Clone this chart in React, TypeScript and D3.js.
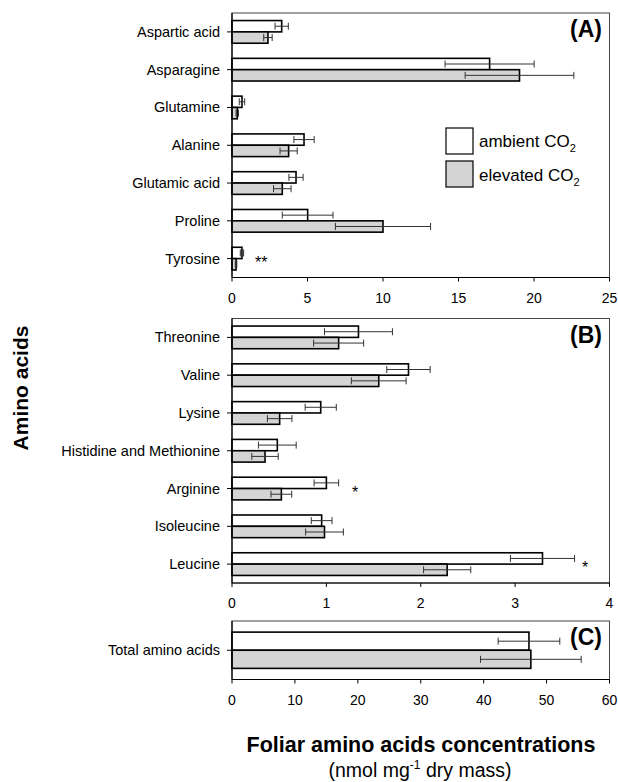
import React from "react";
import * as d3 from "d3";

// ---------- DATA ----------
const catsA = ["Aspartic acid", "Asparagine", "Glutamine", "Alanine", "Glutamic acid", "Proline", "Tyrosine"];
const ambA = [3.29, 17.06, 0.66, 4.77, 4.24, 5.01, 0.66];
const ambAErr = [0.44, 2.95, 0.18, 0.67, 0.47, 1.68, 0.11];
const eleA = [2.38, 19.04, 0.35, 3.75, 3.33, 10.0, 0.27];
const eleAErr = [0.28, 3.6, 0.08, 0.57, 0.58, 3.15, 0.05];
const sigA = ["", "", "", "", "", "", "**"];

const catsB = ["Threonine", "Valine", "Lysine", "Histidine and Methionine", "Arginine", "Isoleucine", "Leucine"];
const ambB = [1.34, 1.87, 0.94, 0.48, 1.0, 0.95, 3.29];
const ambBErr = [0.36, 0.23, 0.165, 0.2, 0.13, 0.11, 0.34];
const eleB = [1.13, 1.555, 0.505, 0.35, 0.523, 0.98, 2.28];
const eleBErr = [0.265, 0.29, 0.13, 0.14, 0.11, 0.2, 0.25];
const sigB = ["", "", "", "", "*", "", "*"];

const catsC = ["Total amino acids"];
const ambC = [47.2];
const ambCErr = [4.9];
const eleC = [47.5];
const eleCErr = [8.0];
const sigC = [""];

const ticksA = [0, 5, 10, 15, 20, 25];
const ticksB = [0, 1, 2, 3, 4];
const ticksC = [0, 10, 20, 30, 40, 50, 60];

const FONT = "'Liberation Sans', Arial, Helvetica, sans-serif";
const GRAY = "#d4d4d4";

type PanelProps = {
  cats: string[];
  amb: number[];
  ambErr: number[];
  ele: number[];
  eleErr: number[];
  sig: string[];
  ticks: number[];
  top: number;
  bottom: number;
  label: string;
  labelY: number;
  sigX: number[];
  single?: boolean;
};

const LEFT = 232;
const RIGHT = 609.5;

function Panel(p: PanelProps) {
  const x = d3.scaleLinear().domain([0, p.ticks[p.ticks.length - 1]]).range([LEFT, RIGHT]);
  const y = d3
    .scaleBand<string>()
    .domain(p.cats)
    .range([p.top, p.bottom])
    .paddingInner(p.single ? 0.38 : 0.4)
    .paddingOuter(p.single ? 0.19 : 0.2);
  const bw = y.bandwidth();
  const half = bw / 2;
  const cap = 3.5;
  const errBar = (m: number, e: number, cy: number, key: string) => (
    <g key={key} stroke="#333" strokeWidth={1}>
      <line x1={x(m - e)} x2={x(m + e)} y1={cy} y2={cy} />
      <line x1={x(m - e)} x2={x(m - e)} y1={cy - cap} y2={cy + cap} />
      <line x1={x(m + e)} x2={x(m + e)} y1={cy - cap} y2={cy + cap} />
    </g>
  );
  return (
    <g>
      <rect x={LEFT} y={p.top} width={RIGHT - LEFT} height={p.bottom - p.top} fill="none" stroke="#444" strokeWidth={1} />
      {p.cats.map((c, i) => {
        const y0 = y(c)!;
        return (
          <g key={c}>
            <rect x={x(0)} y={y0} width={x(p.amb[i]) - x(0)} height={half} fill="#fff" stroke="#000" strokeWidth={1.6} />
            <rect x={x(0)} y={y0 + half} width={x(p.ele[i]) - x(0)} height={half} fill={GRAY} stroke="#000" strokeWidth={1.6} />
            {errBar(p.amb[i], p.ambErr[i], y0 + half / 2, c + "a")}
            {errBar(p.ele[i], p.eleErr[i], y0 + half * 1.5, c + "e")}
            {p.sig[i] ? (
              <text x={p.sigX[i]} y={y0 + bw / 2 + 9} fontSize={16} fontFamily={FONT} fill="#000">
                {p.sig[i]}
              </text>
            ) : null}
          </g>
        );
      })}
      <line x1={LEFT} x2={LEFT} y1={p.top} y2={p.bottom} stroke="#000" strokeWidth={1.2} />
      <line x1={LEFT} x2={RIGHT} y1={p.bottom} y2={p.bottom} stroke="#000" strokeWidth={1.2} />
      {p.cats.map((c) => {
        const cy = y(c)! + bw / 2;
        return (
          <g key={"t" + c}>
            <line x1={LEFT - 5} x2={LEFT + 1} y1={cy} y2={cy} stroke="#000" strokeWidth={1} />
            <text x={LEFT - 12} y={cy + 5} textAnchor="end" fontSize={14.5} fontFamily={FONT} fill="#000">
              {c}
            </text>
          </g>
        );
      })}
      {p.ticks.map((t) => (
        <g key={"x" + t}>
          <line x1={x(t)} x2={x(t)} y1={p.bottom} y2={p.bottom + 4} stroke="#000" strokeWidth={1} />
          <text x={x(t)} y={p.bottom + 25} textAnchor="middle" fontSize={14} fontFamily={FONT} fill="#000">
            {t}
          </text>
        </g>
      ))}
      <text x={602} y={p.labelY} textAnchor="end" fontSize={23} fontWeight="bold" fontFamily={FONT} fill="#000">
        {p.label}
      </text>
    </g>
  );
}

export default function App() {
  return (
    <svg width={618} height={782} style={{ position: "absolute", left: 0, top: 0, background: "#fff" }}>
      <rect width={618} height={782} fill="#fff" />
      <Panel
        cats={catsA}
        amb={ambA}
        ambErr={ambAErr}
        ele={eleA}
        eleErr={eleAErr}
        sig={sigA}
        ticks={ticksA}
        top={13}
        bottom={277.5}
        label="(A)"
        labelY={37}
        sigX={[0, 0, 0, 0, 0, 0, 255]}
      />
      <Panel
        cats={catsB}
        amb={ambB}
        ambErr={ambBErr}
        ele={eleB}
        eleErr={eleBErr}
        sig={sigB}
        ticks={ticksB}
        top={318.5}
        bottom={583}
        label="(B)"
        labelY={343}
        sigX={[0, 0, 0, 0, 352, 0, 582]}
      />
      <Panel
        cats={catsC}
        amb={ambC}
        ambErr={ambCErr}
        ele={eleC}
        eleErr={eleCErr}
        sig={sigC}
        ticks={ticksC}
        top={621}
        bottom={679.5}
        label="(C)"
        labelY={645}
        sigX={[0]}
        single
      />
      <rect x={446} y={128} width={27} height={26} fill="#fff" stroke="#000" strokeWidth={1.2} />
      <rect x={446} y={161} width={27} height={26} fill={GRAY} stroke="#000" strokeWidth={1.2} />
      <text x={479} y={147} fontSize={17} fontFamily={FONT} fill="#000">
        ambient CO<tspan fontSize={11} dy={5}>2</tspan>
      </text>
      <text x={479} y={181} fontSize={17} fontFamily={FONT} fill="#000">
        elevated CO<tspan fontSize={11} dy={5}>2</tspan>
      </text>
      <text
        transform="translate(28,388) rotate(-90)"
        textAnchor="middle"
        fontSize={21}
        fontWeight="bold"
        fontFamily={FONT}
        fill="#000"
      >
        Amino acids
      </text>
      <text x={421} y={752} textAnchor="middle" fontSize={21.5} fontWeight="bold" fontFamily={FONT} fill="#000">
        Foliar amino acids concentrations
      </text>
      <text x={420} y={777} textAnchor="middle" fontSize={19.5} fontFamily={FONT} fill="#000">
        (nmol mg<tspan fontSize={12} dy={-8}>-1</tspan>
        <tspan dy={8}> dry mass)</tspan>
      </text>
    </svg>
  );
}
